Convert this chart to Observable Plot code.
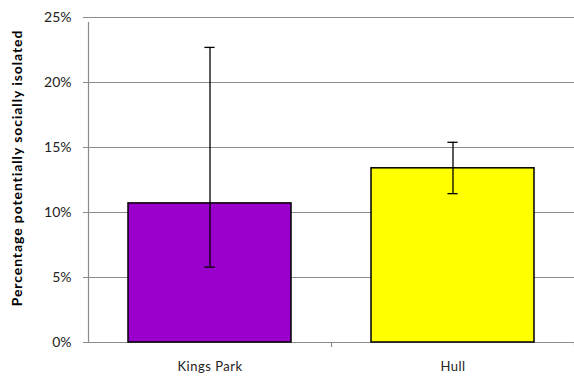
<!DOCTYPE html>
<html>
<head>
<meta charset="utf-8">
<script src="https://cdn.jsdelivr.net/npm/d3@7"></script>
<script src="https://cdn.jsdelivr.net/npm/@observablehq/plot@0.6"></script>
<style>
  html, body { margin: 0; padding: 0; background: #fff; }
  svg { display: block; }
</style>
</head>
<body>
<div id="chart"></div>
<script>
const categories = ["Kings Park", "Hull"];
const values = [10.7, 13.4];
const errLow = [5.8, 11.45];
const errHigh = [22.7, 15.4];
const colors = ["#9900cc", "#ffff00"];
const yTicks = [0, 5, 10, 15, 20, 25];
const yLabel = "Percentage potentially socially isolated";

const data = categories.map((c, i) => ({cat: c, value: values[i], lo: errLow[i], hi: errHigh[i], color: colors[i]}));

const W = 574, H = 376;
const mL = 88, mR = 0, mT = 17, mB = 34;
const pInner = 0.33, pOuter = 0.165;
const step = (W - mL - mR) / (categories.length - pInner + 2 * pOuter);
const bw = step * (1 - pInner);
const capW = 10;
const font = "Lato, 'Open Sans', sans-serif";

const chart = Plot.plot({
  width: W,
  height: H,
  marginLeft: mL,
  marginRight: mR,
  marginTop: mT,
  marginBottom: mB,
  style: {fontFamily: font, fontSize: "13px", color: "#000", background: "#fff"},
  x: {domain: categories, paddingInner: pInner, paddingOuter: pOuter, label: null},
  y: {domain: [0, 25], label: null},
  marks: [
    Plot.ruleY(yTicks, {stroke: "#8c8c8c", strokeWidth: 1.2}),
    Plot.axisY({ticks: yTicks, tickFormat: d => d + "%", tickSize: 5, tickPadding: 12, stroke: "#8c8c8c", fill: "#222", fontSize: 14, label: null}),
    Plot.axisX({tickSize: 0, tickPadding: 19, fontSize: 13, fill: "#222", label: null}),
    Plot.barY(data, {x: "cat", y: "value", fill: "color", stroke: "#000", strokeWidth: 1.5}),
    Plot.ruleX(data, {x: "cat", y1: "lo", y2: "hi", stroke: "#000", strokeWidth: 1.3}),
    Plot.tickY(data, {x: "cat", y: "lo", stroke: "#000", strokeWidth: 1.3, insetLeft: (bw - capW) / 2, insetRight: (bw - capW) / 2}),
    Plot.tickY(data, {x: "cat", y: "hi", stroke: "#000", strokeWidth: 1.3, insetLeft: (bw - capW) / 2, insetRight: (bw - capW) / 2}),
    // axis line with bottom tick at left boundary
    Plot.ruleX([categories[0]], {x: d => d, dx: -step / 2, y1: 0, y2: 25, insetBottom: -5, stroke: "#8c8c8c", strokeWidth: 1.2}),
    // category boundary ticks
    Plot.ruleX(categories, {x: d => d, dx: step / 2, y1: 0, y2: 0, insetBottom: -5, stroke: "#8c8c8c", strokeWidth: 1.2}),
    Plot.text([yLabel], {frameAnchor: "left", textAnchor: "middle", rotate: -90, dx: -71, dy: -12, text: d => d, fontWeight: "bold", fontSize: 14, fill: "#000"})
  ]
});
d3.select(chart).selectAll("text").each(function() {
  const t = d3.select(this).text();
  if (t === yLabel) d3.select(this).style("letter-spacing", "0.9px");
  else if (categories.includes(t)) d3.select(this).style("letter-spacing", "0.5px");
});
document.getElementById("chart").appendChild(chart);
</script>
</body>
</html>
